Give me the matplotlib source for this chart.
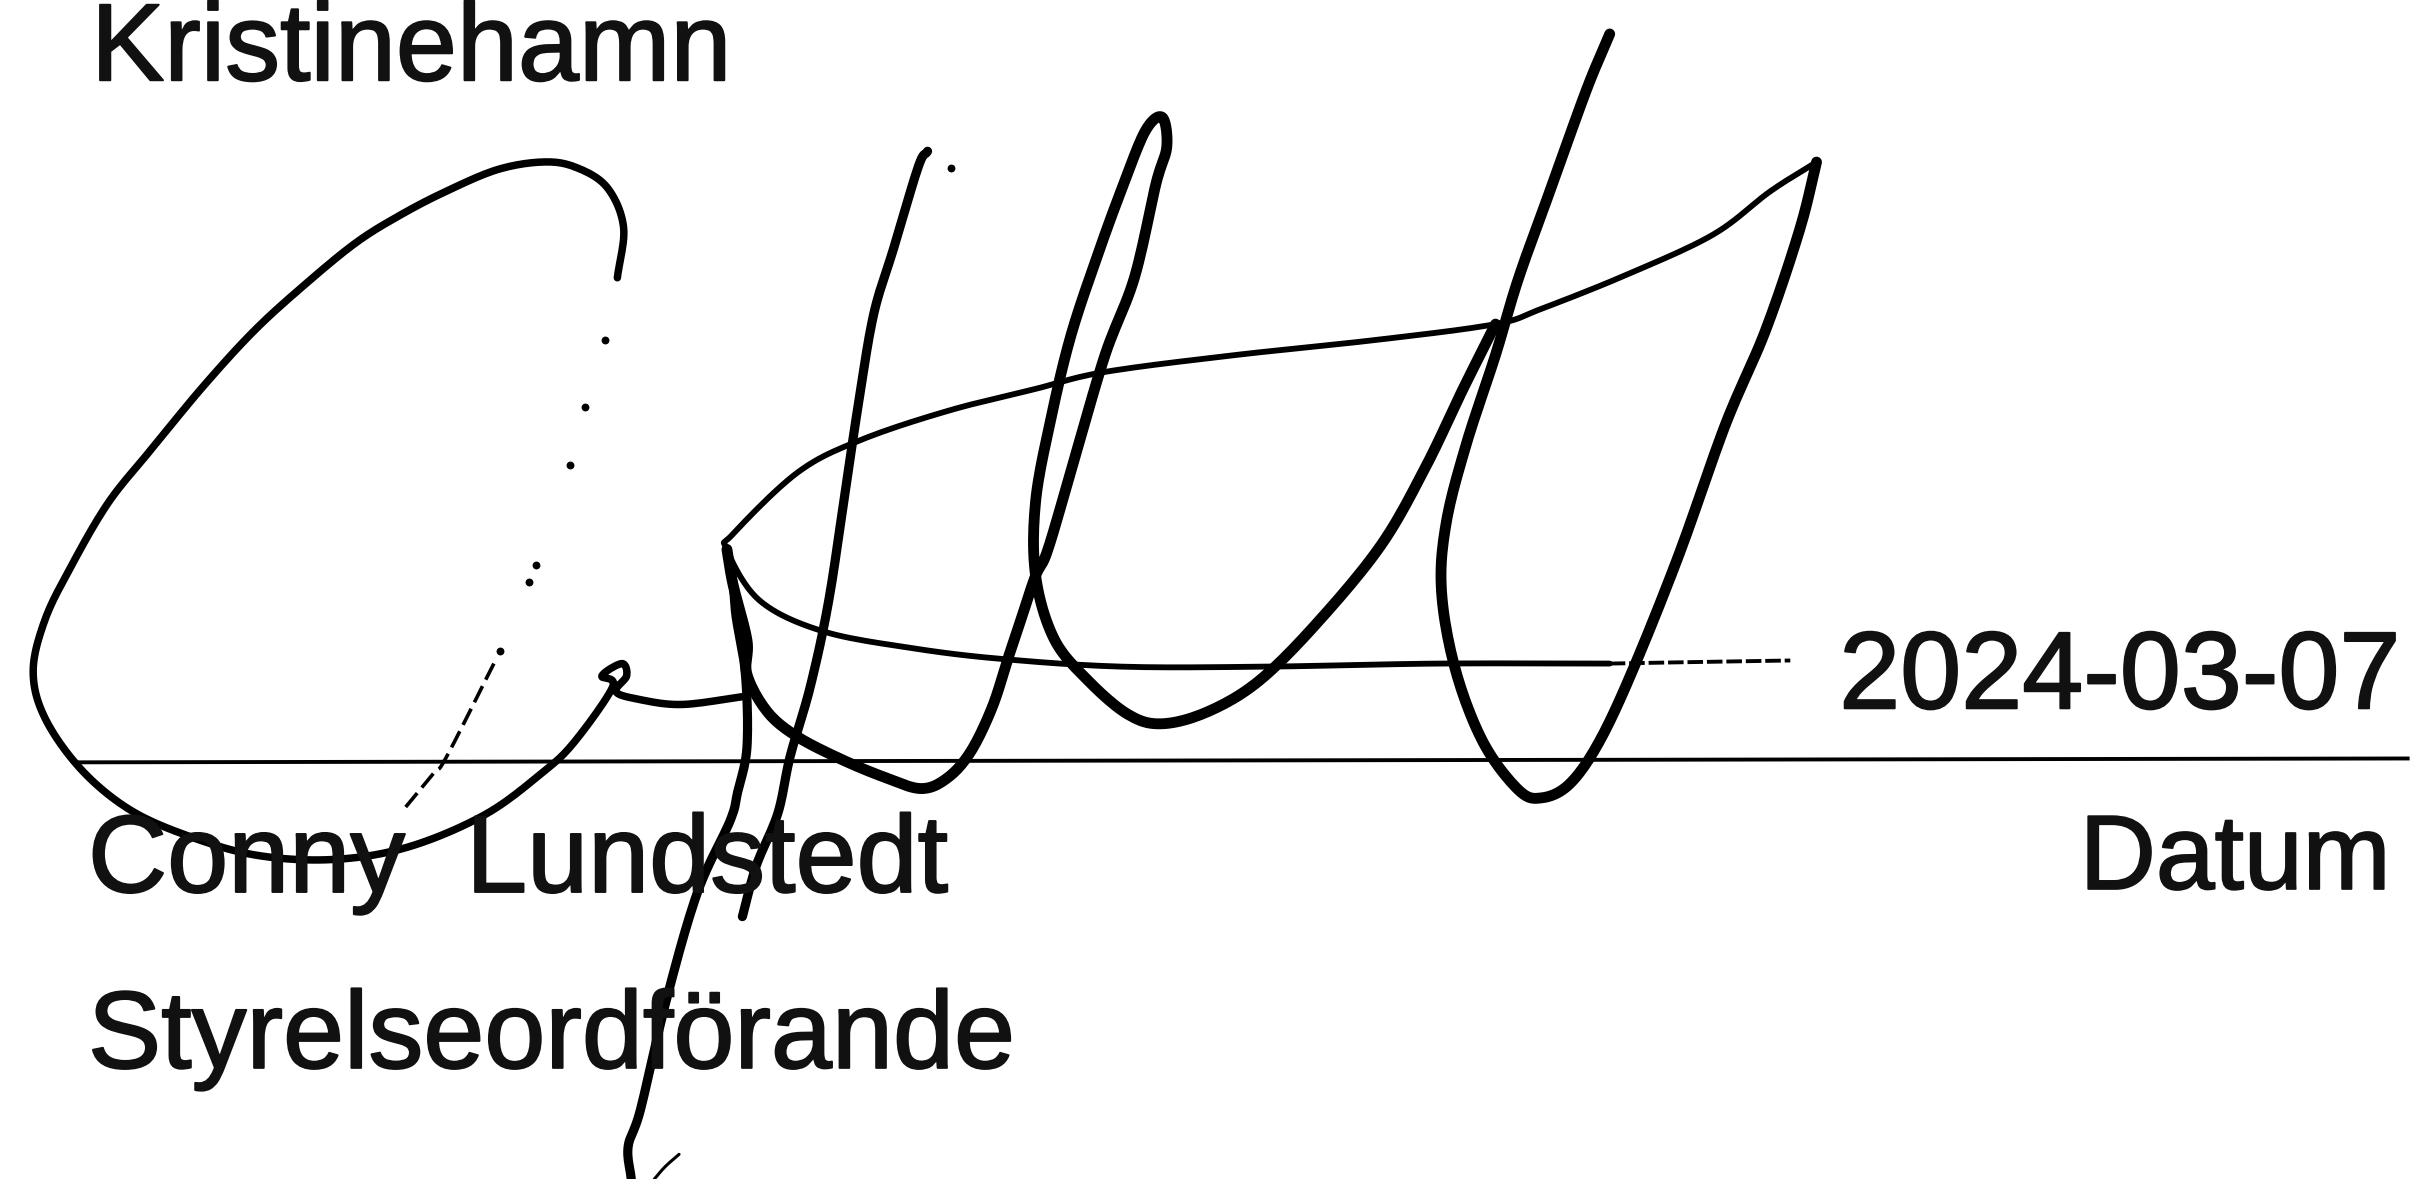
import numpy as np
import matplotlib
matplotlib.use("Agg")
import matplotlib.pyplot as plt
import matplotlib.patheffects as pe

labels_left = ["Kristinehamn", "Conny  Lundstedt", "Styrelseordförande"]
labels_left_xy = [(59, 52), (57, 578), (57, 692)]
labels_right = ["2024-03-07", "Datum"]
labels_right_xy = [(1555, 459), (1549, 576)]
labels_right_size = [79, 76]
rule_x = [50, 1560]
rule_y = [494, 491.5]

loop_stroke = [(400,180),(404,147),(393,121),(372,108),(351,105),(322,110),(289,124),(260,139),(231,157),(198,184),(165,214),(132,250),(99,290),(70,326),(45,369),(29,402),(21.5,435),(29,465),(52,498),(83,524),(120,541),(165,554),(215,557),(264,549),(314,528),(351,501),(372,481),(397,445),(390,438),(403,430),(406,438),(399,448),(413,453),(442,456.5),(484,451)]
long_stroke = [(601,98),(595,108),(579,161),(566,204),(556,263),(548,316),(537,389),(525,445),(512,490),(504,527),(490,561),(481,594)]
down_stroke = [(471,356),(475,379),(477,400),(483,437),(484,484),(478,513),(473,532),(452,578),(432,647),(415,719),(407,743),(409,764)]
wave_stroke = [(471,356),(475,379),(484,415),(484,437),(497,461),(516,477),(545,492),(574,504),(597,511),(614,504),(629,487),(643,458),(653,427),(662,400),(671,373),(679,356),(696,298),(716,230),(735,180),(749,119),(756,95),(753,76),(742,85),(727,122),(712,163),(694,217),(681,271),(671,325),(671,373),(683,414),(705,441),(731,463),(753,469),(783,461),(816,441),(854,403),(895,353),(924,302),(947,254),(969,210)]
tall_stroke = [(1043,22),(1028,58),(1006,119),(984,180),(969,230),(950,288),(937,339),(934,383),(943,434),(961,481),(984,512),(999,517),(1017,508),(1036,481),(1058,434),(1088,359),(1118,275),(1144,214),(1166,149),(1177,105)]
thin_stroke = [(1177,105),(1147,124),(1110,152),(1054,178),(999,200),(969,210),(894,220),(801,230),(716,241),(671,252),(615,266),(558,285),(517,306),(475,346),(471,356),(492,389),(533,409),(591,420),(649,427),(727,432),(820,432),(932,430),(1043,430)]
tail_stroke = [(1043,430),(1099,429),(1160,428)]
faint_stroke = [(320,430),(289,491),(281,501),(262,524)]
hook_stroke = [(440,748),(431,756),(424,764)]
dots_x = [392, 379, 369, 347, 343, 324, 616]
dots_y = [220, 264, 301, 366, 377, 422, 109]


def smooth(points, n=12):
    p = np.array(points, float)
    p = np.vstack([2*p[0]-p[1], p, 2*p[-1]-p[-2]])
    out = []
    for i in range(1, len(p)-2):
        for t in np.linspace(0, 1, n, endpoint=False):
            out.append(0.5*((2*p[i]) + (-p[i-1]+p[i+1])*t + (2*p[i-1]-5*p[i]+4*p[i+1]-p[i+2])*t*t + (-p[i-1]+3*p[i]-3*p[i+1]+p[i+2])*t**3))
    out.append(p[-2])
    return np.array(out)


fig = plt.figure(figsize=(24.2, 11.79), dpi=100, facecolor="white")
ax = fig.add_axes([0, 0, 1, 1])
ax.set_xlim(0, 1568)
ax.set_ylim(764, 0)
ax.axis("off")
ink = "#000000"
bold = [pe.withStroke(linewidth=1.4, foreground="#111111")]
font = dict(family="Liberation Sans", color="#111111", va="baseline", path_effects=bold)
for s, (x, y) in zip(labels_left, labels_left_xy):
    ax.text(x, y, s, ha="left", fontsize=79, **font)
for s, (x, y), fs in zip(labels_right, labels_right_xy, labels_right_size):
    ax.text(x, y, s, ha="right", fontsize=fs, **font)
ax.plot(rule_x, rule_y, color=ink, lw=2.8)
for pts, lw, ls in [(loop_stroke, 5.4, "-"), (long_stroke, 6.6, "-"), (down_stroke, 6.6, "-"),
                    (wave_stroke, 7.8, "-"), (tall_stroke, 7.8, "-"), (thin_stroke, 4.2, "-"),
                    (tail_stroke, 2.8, (0, (4, 1))), (faint_stroke, 2.6, (0, (5, 2))), (hook_stroke, 2.2, "-")]:
    xy = smooth(pts)
    ax.plot(xy[:, 0], xy[:, 1], color=ink, lw=lw, ls=ls, solid_capstyle="round", solid_joinstyle="round")
ax.scatter(dots_x, dots_y, s=32, color=ink, lw=0)
fig.savefig("out.png", dpi=100)
